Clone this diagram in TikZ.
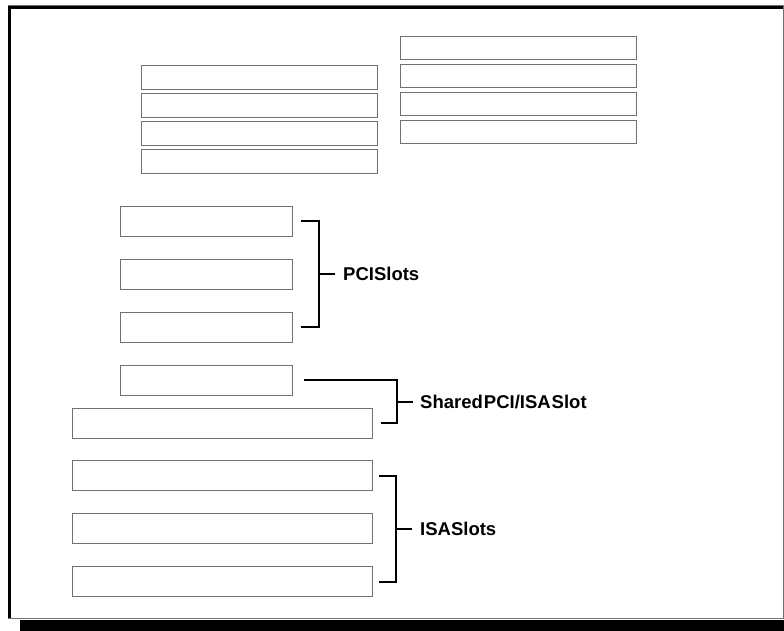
\documentclass[tikz,border=0pt]{standalone}
\usepackage{fontspec}
\setmainfont{Liberation Sans}
\usetikzlibrary{positioning, calc}
\definecolor{slotGray}{HTML}{707070}

\begin{document}
\begin{tikzpicture}[x=1pt, y=-1pt,
    slot/.style={draw=slotGray, line width=0.9pt, inner sep=0pt, outer sep=0pt},
    brk/.style={draw=black, line width=2pt},
    lbl/.style={font=\bfseries\fontsize{18.5}{20}\selectfont, inner sep=0pt, anchor=west}]
  \useasboundingbox (0,0) rectangle (784,631);

  % board outline with shadow
  \fill[black] (20,620) rectangle (790,640);
  \draw[slotGray, line width=0.9pt] (8,5.5) rectangle (783,618.5);
  \draw[black, line width=3pt] (9.5,618) -- (9.5,7.5) -- (783,7.5);

  % upper slot banks
  \foreach \y [count=\i] in {77,105,133,161} {
    \node[slot, minimum width=236pt, minimum height=24pt] (upl\i) at (259,\y) {};
  }
  \foreach \y [count=\i] in {47.5,75.5,103.5,131.5} {
    \node[slot, minimum width=236pt, minimum height=23pt] (upr\i) at (518,\y) {};
  }

  % PCI slots
  \foreach \y [count=\i] in {221,274,327} {
    \node[slot, minimum width=172pt, minimum height=30pt] (pci\i) at (206,\y) {};
  }

  % shared slot
  \node[slot, minimum width=172pt, minimum height=30pt] (pcish) at (206,380) {};
  \node[slot, minimum width=300pt, minimum height=30pt] (isash) at (222,423) {};

  % ISA slots
  \foreach \y [count=\i] in {475.5,528.5,581.5} {
    \node[slot, minimum width=300pt, minimum height=30pt] (isa\i) at (222,\y) {};
  }

  % brackets and labels
  \draw[brk] ([xshift=9pt]pci1.east) -- ++(18,0) |- ([xshift=9pt]pci3.east);
  \coordinate (pcimid) at ($(pci1.east)!0.5!(pci3.east)+(27,0)$);
  \node[lbl] (pcilbl) at ($(pcimid)+(24,0)$) {PCISlots};
  \draw[brk, shorten >=8pt] (pcimid) -- (pcilbl.west);

  \coordinate (shx) at ($(isash.east)+(25,0)$);
  \draw[brk] ([xshift=12pt]pcish.east) -| (shx) -- ([xshift=9pt]isash.east);
  \path (pcish.east) -- (isash.east) coordinate[midway] (shm);
  \coordinate (shmid) at (shx |- shm);
  \node[lbl] (shlbl) at ($(shmid)+(23,0)$) {Shared\kern1pt PCI/ISA\kern1pt Slot};
  \draw[brk, shorten >=7pt] (shmid) -- (shlbl.west);

  \draw[brk] ([xshift=7pt]isa1.east) -- ++(17,0) |- ([xshift=7pt]isa3.east);
  \coordinate (isamid) at ($(isa1.east)!0.5!(isa3.east)+(24,0)$);
  \node[lbl] (isalbl) at ($(isamid)+(24,0)$) {ISASlots};
  \draw[brk, shorten >=8pt] (isamid) -- (isalbl.west);
\end{tikzpicture}
\end{document}
